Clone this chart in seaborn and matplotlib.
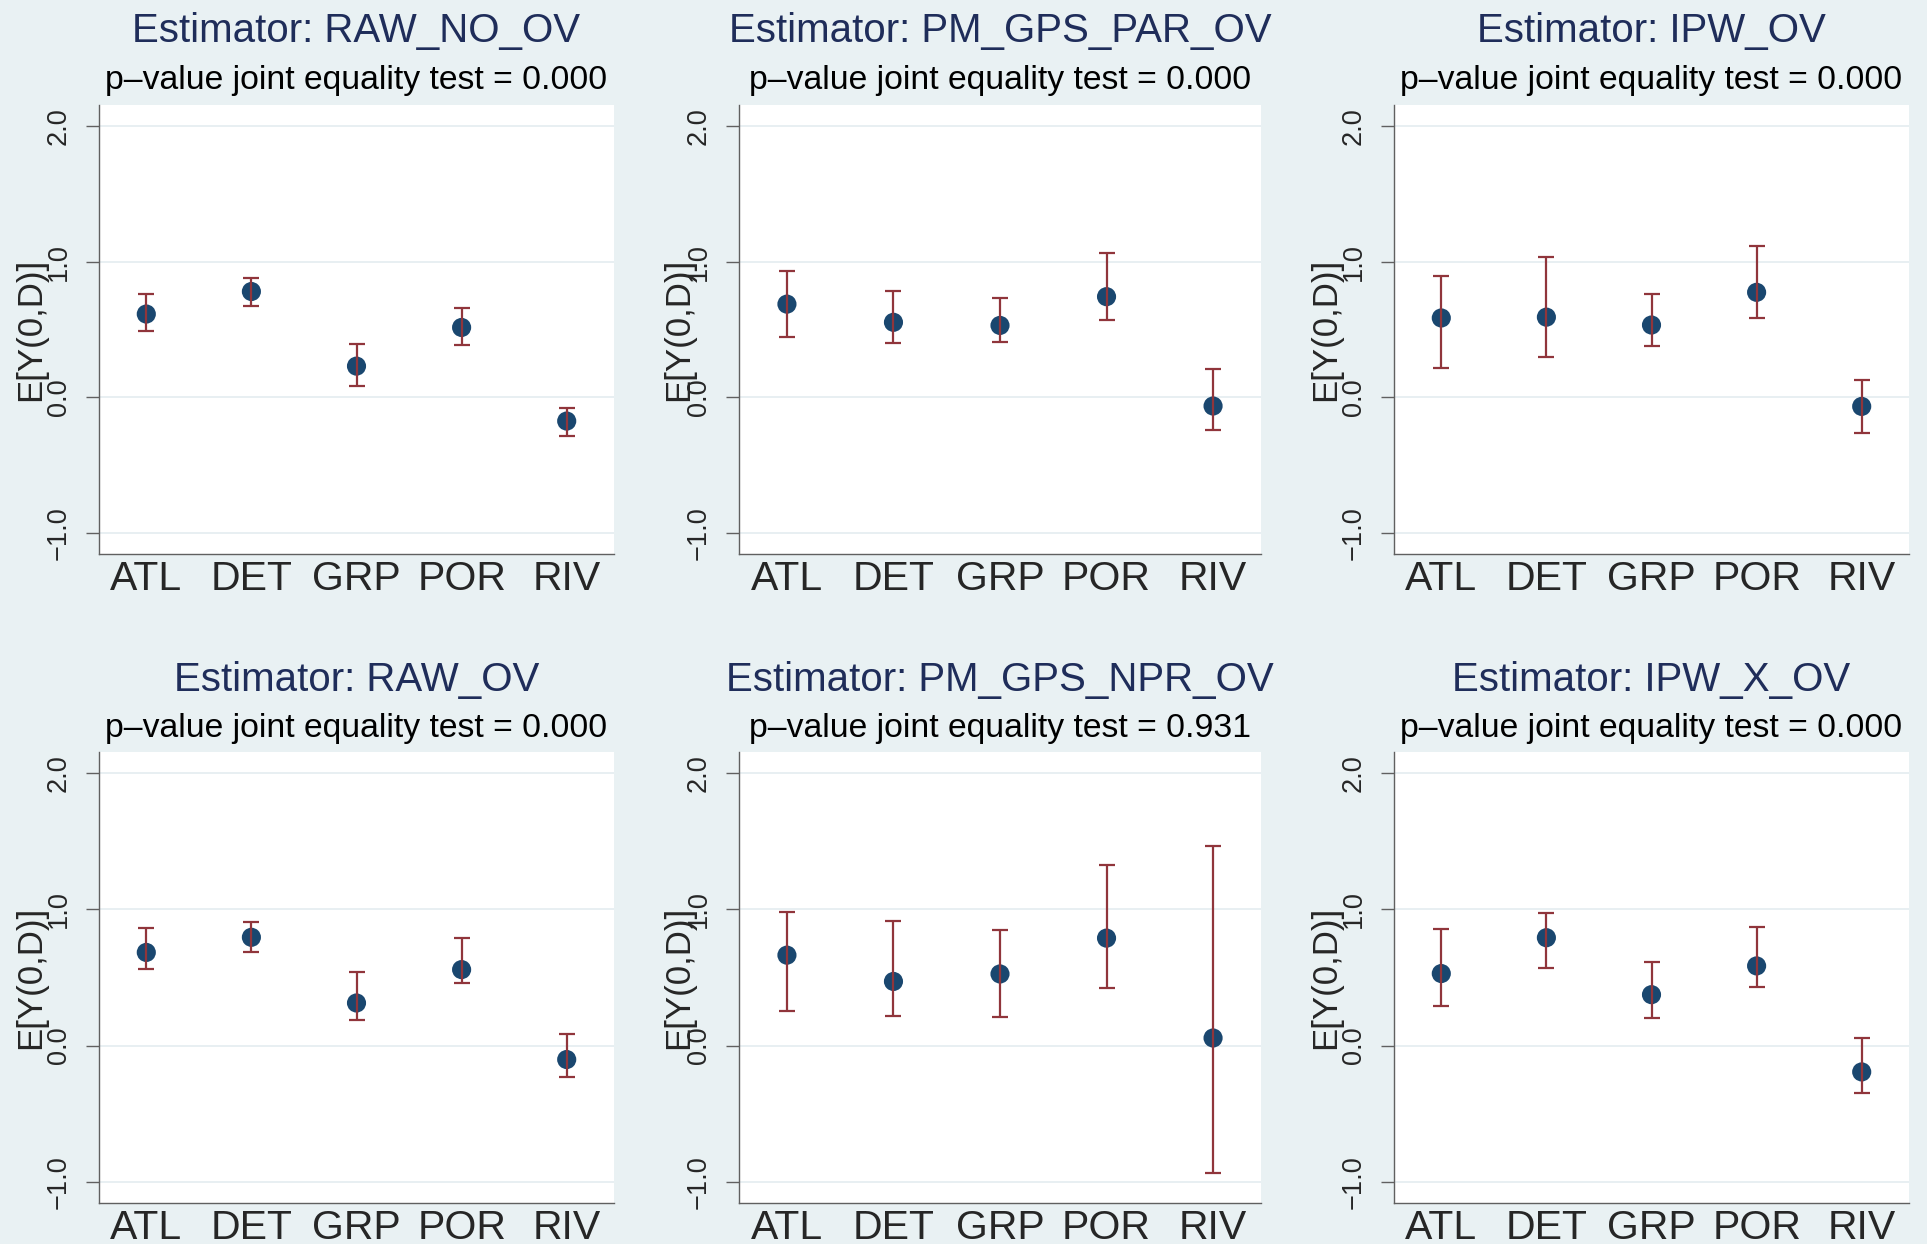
import numpy as np
import pandas as pd
import matplotlib
matplotlib.use("Agg")
import matplotlib.pyplot as plt
import seaborn as sns

# sites on the x axis
sites = ["ATL", "DET", "GRP", "POR", "RIV"]

estimators = ["RAW_NO_OV", "PM_GPS_PAR_OV", "IPW_OV",
              "RAW_OV", "PM_GPS_NPR_OV", "IPW_X_OV"]
pvalues = [0.000, 0.000, 0.000, 0.000, 0.931, 0.000]

# point estimate, lower and upper bound for each estimator
raw_no_ov = [0.614, 0.780, 0.230, 0.515, -0.175]
raw_no_ov_lo = [0.486, 0.675, 0.087, 0.384, -0.288]
raw_no_ov_hi = [0.763, 0.882, 0.393, 0.658, -0.076]

pm_gps_par_ov = [0.687, 0.553, 0.530, 0.742, -0.064]
pm_gps_par_ov_lo = [0.443, 0.399, 0.405, 0.568, -0.239]
pm_gps_par_ov_hi = [0.932, 0.786, 0.734, 1.066, 0.207]

ipw_ov = [0.585, 0.591, 0.533, 0.774, -0.067]
ipw_ov_lo = [0.213, 0.294, 0.378, 0.588, -0.265]
ipw_ov_hi = [0.897, 1.036, 0.760, 1.118, 0.128]

raw_ov = [0.684, 0.795, 0.313, 0.558, -0.102]
raw_ov_lo = [0.564, 0.684, 0.190, 0.459, -0.231]
raw_ov_hi = [0.863, 0.904, 0.544, 0.789, 0.085]

pm_gps_npr_ov = [0.664, 0.471, 0.526, 0.789, 0.056]
pm_gps_npr_ov_lo = [0.254, 0.219, 0.211, 0.424, -0.936]
pm_gps_npr_ov_hi = [0.980, 0.915, 0.845, 1.325, 1.462]

ipw_x_ov = [0.529, 0.792, 0.374, 0.585, -0.193]
ipw_x_ov_lo = [0.292, 0.573, 0.205, 0.433, -0.351]
ipw_x_ov_hi = [0.857, 0.977, 0.611, 0.871, 0.058]

yticks = [-1.0, 0.0, 1.0, 2.0]

est_all = [raw_no_ov, pm_gps_par_ov, ipw_ov, raw_ov, pm_gps_npr_ov, ipw_x_ov]
lo_all = [raw_no_ov_lo, pm_gps_par_ov_lo, ipw_ov_lo, raw_ov_lo, pm_gps_npr_ov_lo, ipw_x_ov_lo]
hi_all = [raw_no_ov_hi, pm_gps_par_ov_hi, ipw_ov_hi, raw_ov_hi, pm_gps_npr_ov_hi, ipw_x_ov_hi]

rows = []
for name, e, lo, hi in zip(estimators, est_all, lo_all, hi_all):
    for s, v, l, h in zip(sites, e, lo, hi):
        rows.append({"estimator": name, "site": s, "est": v, "lo": l, "hi": h})
df = pd.DataFrame(rows)

# colours (Stata s2color look)
bg = "#e9f1f3"
navy = "#1a476f"
maroon = "#90353b"
title_col = "#1f2d5a"
grid_col = "#e6eef1"

sns.set_style("white")
plt.rcParams["font.family"] = ["Liberation Sans", "DejaVu Sans"]

W, H = 1927, 1244
fig = plt.figure(figsize=(W / 100, H / 100), dpi=100, facecolor=bg)

# panel positions in pixels
cols = [(99, 614), (739, 1261), (1394, 1909)]
rws = [(105, 554), (752, 1203)]
ylab_off = [68, 60, 68]
title_base = [41.5, 691]
sub_base = [89, 737]

for i, name in enumerate(estimators):
    r, c = divmod(i, 3)
    x0, x1 = cols[c]
    y0, y1 = rws[r]
    ax = fig.add_axes([x0 / W, 1 - y1 / H, (x1 - x0) / W, (y1 - y0) / H])
    ax.set_facecolor("white")
    sub = df[df.estimator == name]

    sns.scatterplot(data=sub, x="site", y="est", ax=ax, color=navy,
                    s=190, edgecolor="none", zorder=2)
    ax.errorbar(sub.site, sub.est,
                yerr=[sub.est - sub.lo, sub.hi - sub.est],
                fmt="none", ecolor=maroon, elinewidth=1.6,
                capsize=5.6, capthick=1.6, zorder=3)

    ax.set_xlim(-0.45, 4.45)
    ax.set_ylim(-1.155, 2.155)
    ax.set_yticks(yticks)
    ax.set_yticklabels([f"{t:.1f}".replace("-", "\u2212") for t in yticks])
    ax.yaxis.grid(True, color=grid_col, lw=1.3)
    ax.xaxis.grid(False)
    ax.set_axisbelow(True)

    for side in ["top", "right"]:
        ax.spines[side].set_visible(False)
    for side in ["left", "bottom"]:
        ax.spines[side].set_color("#606060")
        ax.spines[side].set_linewidth(1.0)

    ax.tick_params(axis="y", labelrotation=90, labelsize=19.5, length=9.4,
                   width=1.0, color="#606060", pad=10, left=True)
    for lab in ax.get_yticklabels():
        lab.set_verticalalignment("center")
    ax.tick_params(axis="x", labelsize=29.5, length=0, pad=4)

    ax.set_xlabel("")
    ax.set_ylabel("E[Y(0,D)]", fontsize=25)
    ax.yaxis.label.set_verticalalignment("center")
    ax.yaxis.set_label_coords(-ylab_off[c] / (x1 - x0), 0.5)

    cx = (x0 + x1) / 2 / W
    fig.text(cx, 1 - title_base[r] / H, f"Estimator: {name}", ha="center",
             va="baseline", fontsize=29, color=title_col)
    fig.text(cx, 1 - sub_base[r] / H,
             f"p\u2013value joint equality test = {pvalues[i]:.3f}",
             ha="center", va="baseline", fontsize=24.3, color="black")

fig.savefig("out.png", dpi=100, facecolor=bg)
